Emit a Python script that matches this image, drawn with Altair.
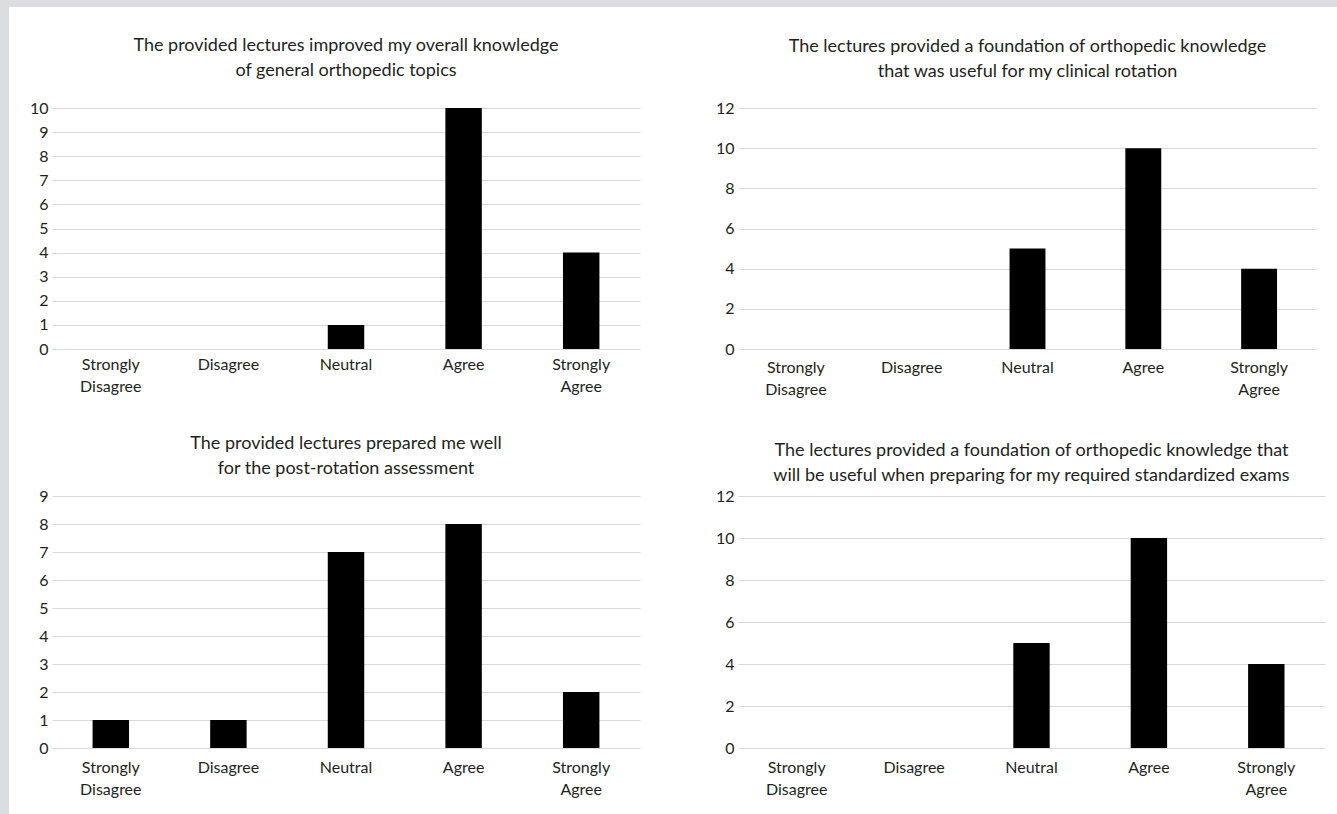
import altair as alt
import pandas as pd

CATS = ["Strongly Disagree", "Disagree", "Neutral", "Agree", "Strongly Agree"]
VALS_1 = [0, 0, 1, 10, 4]
VALS_2 = [0, 0, 5, 10, 4]
VALS_3 = [1, 1, 7, 8, 2]
VALS_4 = [0, 0, 5, 10, 4]

TITLE_1 = ["The provided lectures improved my overall knowledge", "of general orthopedic topics"]
TITLE_2 = ["The lectures provided a foundation of orthopedic knowledge", "that was useful for my clinical rotation"]
TITLE_3 = ["The provided lectures prepared me well", "for the post-rotation assessment"]
TITLE_4 = ["The lectures provided a foundation of orthopedic knowledge that",
           "will be useful when preparing for my required standardized exams"]

FONT = "Lato"
TEXT = "#231f20"
GRID = "#d9d9d9"
GRAY = "#dcdde0"


def bars(vals, ymax, step, lpad):
    df = pd.DataFrame({"cat": CATS, "n": vals})
    return alt.Chart(df).mark_bar(color="black").encode(
        x=alt.X("cat:N", sort=CATS,
                scale=alt.Scale(paddingInner=0.69, paddingOuter=0.345),
                axis=alt.Axis(title=None, labelAngle=0, domain=False, ticks=False,
                              labelExpr="split(datum.label, ' ')",
                              labelPadding=lpad, labelLineHeight=22)),
        y=alt.Y("n:Q", scale=alt.Scale(domain=[0, ymax], nice=False),
                axis=alt.Axis(title=None, values=list(range(0, ymax + 1, step)),
                              domain=False, ticks=False, grid=True, gridColor=GRID,
                              labelPadding=4)),
    )


def title(lines, toff):
    return alt.TitleParams(text=lines, offset=toff, fontSize=18, lineHeight=25,
                           fontWeight="normal", anchor="middle", frame="group",
                           color=TEXT, font=FONT)


# decorative grey page border (left and top), drawn relative to the first panel
strip_df = pd.DataFrame({"a": [0]})
left_strip = alt.Chart(strip_df).mark_rect(color=GRAY).encode(
    x=alt.value(-52), x2=alt.value(-43), y=alt.value(-108), y2=alt.value(706))
top_strip = alt.Chart(strip_df).mark_rect(color=GRAY).encode(
    x=alt.value(-52), x2=alt.value(1285), y=alt.value(-108), y2=alt.value(-101))
# title of the first panel as a text block (a chart title would sit above the border)
title_1 = alt.Chart(strip_df).mark_text(
    text=TITLE_1, fontSize=18, lineHeight=25, font=FONT, color=TEXT,
    align="center", baseline="middle"
).encode(x=alt.value(294), y=alt.value(-62))

p1 = alt.layer(left_strip, top_strip, title_1, bars(VALS_1, 10, 1, 7)).properties(
    width=588, height=241)
p2 = bars(VALS_2, 12, 2, 10).properties(width=579, height=241, title=title(TITLE_2, 19))
p3 = bars(VALS_3, 9, 1, 11).properties(width=588, height=252, title=title(TITLE_3, 10))
p4 = bars(VALS_4, 12, 2, 11).properties(width=587, height=252, title=title(TITLE_4, 3))

chart = alt.concat(
    p1, p2, p3, p4, columns=2, spacing={"row": 147, "column": 98}, bounds="flush"
).properties(padding=0, background="white").configure_view(stroke=None).configure_axis(
    labelFont=FONT, labelFontSize=16, labelColor=TEXT
)

chart.save("out.html", embed_options={"renderer": "svg", "actions": False})
